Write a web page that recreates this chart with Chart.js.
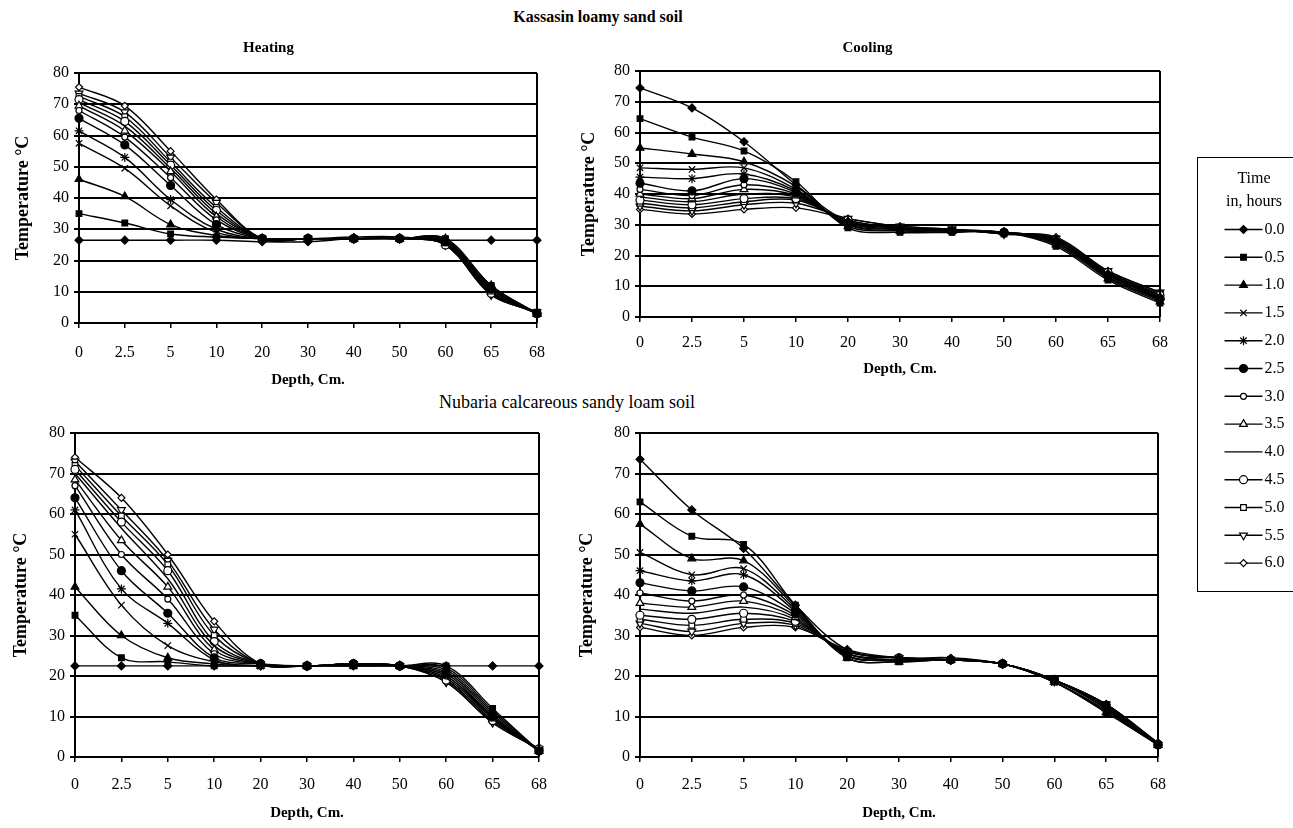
<!DOCTYPE html>
<html>
<head>
<meta charset="utf-8">
<script src="https://cdn.jsdelivr.net/npm/chart.js@4.4.1/dist/chart.umd.min.js"></script>
<style>
  html, body { margin: 0; padding: 0; background: #fff; }
  body { width: 1293px; height: 828px; position: relative; overflow: hidden; font-family: "Liberation Serif", "Times New Roman", serif; color: #000; }
  canvas { position: absolute; }
  .lbl { position: absolute; white-space: nowrap; transform: translate(-50%, -50%); }
  #legendBox { position: absolute; left: 1197px; top: 157px; width: 112px; height: 433px; border: 1.5px solid #000; }
</style>
</head>
<body>
<div class="lbl" style="left:598px;top:17px;font-size:16px;font-weight:bold">Kassasin loamy sand soil</div>
<div class="lbl" style="left:567px;top:402px;font-size:18px">Nubaria calcareous sandy loam soil</div>
<canvas id="kHeat" width="560" height="395" style="left:0;top:0"></canvas>
<canvas id="kCool" width="630" height="395" style="left:575px;top:0"></canvas>
<canvas id="nHeat" width="560" height="428" style="left:0;top:400px"></canvas>
<canvas id="nCool" width="630" height="428" style="left:575px;top:400px"></canvas>
<div id="legendBox"><canvas id="legend" width="112" height="433" style="left:0;top:0"></canvas></div>

<script>
// --- data ---
const depths = ['0', '2.5', '5', '10', '20', '30', '40', '50', '60', '65', '68'];
const hours = ['0.0', '0.5', '1.0', '1.5', '2.0', '2.5', '3.0', '3.5', '4.0', '4.5', '5.0', '5.5', '6.0'];

// Kassasin loamy sand, heating (one row per hour)
const kassasinHeating = [
  [26.5, 26.5, 26.5, 26.5, 26, 26, 27, 27, 26.5, 26.5, 26.5],
  [35, 32, 28.5, 27.5, 27, 27, 27, 27, 27, 12, 3],
  [46, 40.5, 31.5, 28, 27, 27, 27, 27, 27, 12, 3],
  [57.5, 49.5, 37.5, 29, 27, 27, 27, 27, 26.5, 11.5, 3],
  [61.5, 53, 39.5, 30, 27, 27, 27, 27, 26.5, 11, 3],
  [65.5, 57, 44, 31.5, 27, 27, 27, 27, 26, 11, 3],
  [68, 59.5, 46.5, 33, 27, 27, 27, 27, 26, 10.5, 3],
  [69.5, 61.5, 48.5, 34, 27, 27, 27, 27, 25.5, 10, 3],
  [70.5, 63, 49.5, 35, 27, 27, 27, 27, 25.5, 10, 3],
  [71.5, 64.5, 50.5, 36, 27, 27, 27, 27, 25, 9.5, 3],
  [72.5, 66, 51.5, 37, 27, 27, 27, 27, 25, 9.5, 3.5],
  [73.5, 67.5, 53, 38.5, 27, 27, 27, 27, 25, 9, 3.5],
  [75.5, 69.5, 55, 39.5, 27, 27, 27.5, 27.5, 25, 9, 3.5]
];

// Kassasin loamy sand, cooling
const kassasinCooling = [
  [74.5, 68, 57, 43, 31, 29, 28, 27.5, 25, 14, 6],
  [64.5, 58.5, 54, 44, 29, 27.5, 27.5, 27.5, 23, 12, 4.5],
  [55, 53, 50.5, 42.5, 29.5, 28, 28, 27.5, 23.5, 12.5, 5],
  [48.5, 48, 48.5, 41.5, 30, 28, 28, 27.5, 24, 13, 5.5],
  [45.5, 45, 46.5, 41, 30, 28.5, 28, 27.5, 24, 13, 5.5],
  [43.5, 41, 45, 40.5, 30.5, 28.5, 28, 27.5, 24.5, 13.5, 6],
  [41.5, 39.5, 43, 40, 30.5, 28.5, 28, 27.5, 24.5, 13.5, 6],
  [40, 38.5, 41.5, 39.5, 31, 29, 28, 27.5, 25, 14, 6.5],
  [39, 37.5, 40, 39, 31, 29, 28, 27.5, 25, 14, 7],
  [38, 36.5, 38.5, 38.5, 31.5, 29, 28.5, 27.5, 25, 14.5, 7],
  [37, 35.5, 37.5, 38, 31.5, 29, 28.5, 27, 25.5, 14.5, 7.5],
  [36, 34.5, 36.5, 37, 32, 29.5, 28.5, 27, 25.5, 15, 8],
  [35, 33.5, 35, 35.5, 32, 29.5, 28.5, 27, 26, 15, 8]
];

// Nubaria calcareous sandy loam, heating
const nubariaHeating = [
  [22.5, 22.5, 22.5, 22.5, 22.5, 22.5, 22.5, 22.5, 22.5, 22.5, 22.5],
  [35, 24.5, 23.5, 22.5, 22.5, 22.5, 22.5, 22.5, 22.5, 12, 1.5],
  [42, 30, 24.5, 23, 22.5, 22.5, 22.5, 22.5, 22, 11.5, 1.5],
  [55, 37.5, 27.5, 23.5, 22.5, 22.5, 22.5, 22.5, 21.5, 11, 1.5],
  [61, 41.5, 33, 24, 22.5, 22.5, 23, 22.5, 21, 10.5, 1.5],
  [64, 46, 35.5, 24.5, 23, 22.5, 23, 22.5, 20.5, 10, 1.5],
  [67, 50, 39, 25.5, 23, 22.5, 23, 22.5, 20, 10, 1.5],
  [68.5, 53.5, 42, 26.5, 23, 22.5, 23, 22.5, 20, 9.5, 1.5],
  [70, 56.5, 44, 27.5, 23, 22.5, 23, 22.5, 19.5, 9.5, 2],
  [71, 58, 46, 28.5, 23, 22.5, 23, 22.5, 19, 9, 2],
  [72, 59.5, 47.5, 30, 23, 22.5, 23, 22.5, 19, 9, 2],
  [73, 61, 48.5, 31.5, 23, 22.5, 23, 22.5, 18.5, 8.5, 2],
  [74, 64, 50, 33.5, 23, 22.5, 23, 22.5, 18.5, 8.5, 2]
];

// Nubaria calcareous sandy loam, cooling
const nubariaCooling = [
  [73.5, 61, 51.5, 37.5, 26.5, 24.5, 24, 23, 19, 13, 3.5],
  [63, 54.5, 52.5, 37.5, 24.5, 23.5, 24, 23, 18.5, 11, 3],
  [57.5, 49, 48.5, 37, 24.5, 23.5, 24, 23, 18.5, 11, 3],
  [50.5, 45, 46.5, 36.5, 25, 24, 24, 23, 18.5, 11.5, 3],
  [46, 43.5, 45, 36, 25, 24, 24, 23, 18.5, 11.5, 3],
  [43, 41, 42, 35.5, 25, 24, 24, 23, 19, 12, 3],
  [40.5, 38.5, 40, 35, 25.5, 24, 24, 23, 19, 12, 3],
  [38, 37, 38.5, 34.5, 25.5, 24, 24, 23, 19, 12, 3],
  [36.5, 35.5, 37, 34, 25.5, 24.5, 24, 23, 19, 12.5, 3],
  [35, 34, 35.5, 33.5, 26, 24.5, 24, 23, 19, 12.5, 3],
  [34, 32.5, 34, 33, 26, 24.5, 24, 23, 19, 13, 3],
  [33, 31, 33, 32.5, 26, 24.5, 24, 23, 19, 13, 3],
  [32, 30, 32, 32, 26.5, 24.5, 24.5, 23, 19, 13, 3.5]
];

// --- styles ---
const SERIF = '"Liberation Serif", "Times New Roman", serif';
const markers = [
  { style: 'rectRot', radius: 4, fill: '#000' },
  { style: 'rect', radius: 4, fill: '#000' },
  { style: 'triangle', radius: 4.5, fill: '#000' },
  { style: 'crossRot', radius: 4.5, fill: '#000' },
  { style: 'star', radius: 4.5, fill: '#000' },
  { style: 'circle', radius: 4, fill: '#000' },
  { style: 'circle', radius: 3, fill: '#fff' },
  { style: 'triangle', radius: 4.5, fill: '#fff' },
  { style: 'circle', radius: 0, fill: '#000' },
  { style: 'circle', radius: 4, fill: '#fff' },
  { style: 'rect', radius: 4, fill: '#fff' },
  { style: 'triangle', radius: 4.5, fill: '#fff', rotation: 180 },
  { style: 'rectRot', radius: 3.5, fill: '#fff' }
];

function makeDatasets(rows) {
  return rows.map((vals, i) => ({
    label: hours[i],
    data: vals,
    borderColor: '#000',
    borderWidth: 1.4,
    tension: 0.35,
    clip: false,
    pointStyle: markers[i].style,
    pointRadius: markers[i].radius,
    pointRotation: markers[i].rotation || 0,
    pointBackgroundColor: markers[i].fill,
    pointBorderColor: '#000',
    pointBorderWidth: 1.2
  }));
}

// right edge of the plot box
const frame = {
  id: 'frame',
  afterDraw(chart) {
    const { ctx, chartArea: a } = chart;
    ctx.save();
    ctx.strokeStyle = '#000';
    ctx.lineWidth = 2;
    ctx.beginPath();
    ctx.moveTo(a.right, a.top);
    ctx.lineTo(a.right, a.bottom);
    ctx.stroke();
    ctx.restore();
  }
};

function panel(id, rows, g) {
  return new Chart(document.getElementById(id), {
    type: 'line',
    data: { labels: depths, datasets: makeDatasets(rows) },
    options: {
      responsive: false,
      animation: false,
      devicePixelRatio: 1,
      layout: { padding: { left: 0, right: g.padRight, top: g.padTop, bottom: 0 } },
      plugins: {
        legend: { display: false },
        tooltip: { enabled: false },
        title: {
          display: !!g.title,
          text: g.title || '',
          color: '#000',
          font: { family: SERIF, size: 15, weight: 'bold' },
          padding: { top: 39, bottom: g.titleGap || 0 }
        }
      },
      scales: {
        x: {
          offset: false,
          grid: { display: true, drawOnChartArea: false, drawTicks: true, tickLength: 5, color: '#000', lineWidth: 1.5 },
          border: { display: true, color: '#000', width: 2 },
          ticks: { color: '#000', font: { family: SERIF, size: 16 }, padding: g.tickPad, maxRotation: 0, autoSkip: false },
          title: {
            display: true, text: 'Depth, Cm.', color: '#000',
            font: { family: SERIF, size: 15, weight: 'bold' },
            padding: { top: 0, bottom: g.xTitlePad }
          },
          afterFit: s => { s.height = g.xHeight; }
        },
        y: {
          min: 0,
          max: 80,
          grid: { color: '#000', lineWidth: 2, tickLength: 5, drawTicks: true },
          border: { display: true, color: '#000', width: 2 },
          ticks: { stepSize: 10, color: '#000', font: { family: SERIF, size: 16 }, padding: 5 },
          title: {
            display: true, text: 'Temperature °C', color: '#000',
            font: { family: SERIF, size: 18, weight: 'bold' },
            padding: { top: g.yTitlePad, bottom: 0 }
          },
          afterFit: s => { s.width = g.yWidth; }
        }
      }
    },
    plugins: [frame]
  });
}

panel('kHeat', kassasinHeating, { title: 'Heating', titleGap: 16, padTop: 0, padRight: 23, yWidth: 79, xHeight: 72, tickPad: 15, xTitlePad: 6, yTitlePad: 13 });
panel('kCool', kassasinCooling, { title: 'Cooling', titleGap: 14, padTop: 0, padRight: 45, yWidth: 65, xHeight: 78, tickPad: 11, xTitlePad: 17, yTitlePad: 4 });
panel('nHeat', nubariaHeating, { padTop: 33, padRight: 18, yWidth: 75, xHeight: 71, tickPad: 13, xTitlePad: 6, yTitlePad: 11 });
panel('nCool', nubariaCooling, { padTop: 33, padRight: 47, yWidth: 65, xHeight: 71, tickPad: 13, xTitlePad: 6, yTitlePad: 2 });

// --- legend: line + marker + label for each hour ---
const legendRows = {
  id: 'legendRows',
  afterDraw(chart) {
    const ctx = chart.ctx;
    chart.data.datasets.forEach((ds, i) => {
      const y = 71.5 + i * 27.8;
      ctx.save();
      ctx.strokeStyle = '#000';
      ctx.lineWidth = 1.4;
      ctx.beginPath();
      ctx.moveTo(26.5, y);
      ctx.lineTo(64.5, y);
      ctx.stroke();
      ctx.fillStyle = ds.pointBackgroundColor;
      ctx.lineWidth = ds.pointBorderWidth;
      Chart.helpers.drawPoint(ctx, { pointStyle: ds.pointStyle, radius: ds.pointRadius, rotation: ds.pointRotation, borderWidth: ds.pointBorderWidth }, 45.5, y);
      ctx.fillStyle = '#000';
      ctx.font = '16px ' + SERIF;
      ctx.textBaseline = 'middle';
      ctx.textAlign = 'left';
      ctx.fillText(ds.label, 66.5, y);
      ctx.restore();
    });
  }
};

new Chart(document.getElementById('legend'), {
  type: 'line',
  data: { labels: [], datasets: makeDatasets(hours.map(() => [])) },
  options: {
    responsive: false,
    animation: false,
    devicePixelRatio: 1,
    scales: { x: { display: false }, y: { display: false } },
    plugins: {
      legend: { display: false },
      tooltip: { enabled: false },
      title: {
        display: true,
        text: ['Time', 'in, hours'],
        color: '#000',
        font: { family: SERIF, size: 16, weight: 'normal', lineHeight: 1.4 },
        padding: { top: 10, bottom: 0 }
      }
    }
  },
  plugins: [legendRows]
});
</script>
</body>
</html>
